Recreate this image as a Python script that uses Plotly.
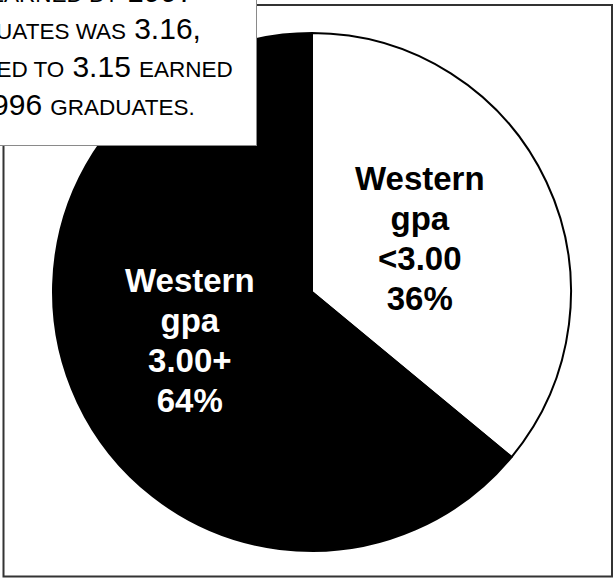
import plotly.graph_objects as go

# ---- data ----
labels = ["Western<br>gpa<br>&lt;3.00", "Western<br>gpa<br>3.00+"]
values = [36, 64]
slice_colors = ["white", "black"]
text_colors = ["black", "white"]
caption_lines = [
    ["THE AVERAGE"],
    ["GPA EARNED BY", "1997"],
    ["GRADUATES WAS", "3.16,"],
    ["COMPARED TO", "3.15", "EARNED"],
    ["BY", "1996", "GRADUATES."],
]

W, H = 614, 578
FONT = "Liberation Sans, Arial, Helvetica, sans-serif"

fig = go.Figure(
    go.Pie(
        labels=labels,
        values=values,
        sort=False,
        direction="clockwise",
        rotation=0,
        marker=dict(colors=slice_colors, line=dict(color="black", width=2)),
        textinfo="none",
        domain=dict(x=[53 / W, 571 / W], y=[1 - 551 / H, 1 - 33 / H]),
        showlegend=False,
        hoverinfo="label+percent",
    )
)

# slice labels (placed over each slice)
label_pos = [(420, 238), (190, 340)]
for lab, v, col, (px, py) in zip(labels, values, text_colors, label_pos):
    lines = lab.split("<br>") + [f"{v}%"]
    txt = "<br>".join(
        f"<span style='font-size:33px;font-weight:bold'>{ln}</span>" for ln in lines
    )
    fig.add_annotation(
        xref="paper", yref="paper", x=px / W, y=1 - py / H,
        xanchor="center", yanchor="middle", text=txt, showarrow=False,
        align="center", font=dict(family=FONT, size=30.8, color=col),
    )

# outer frame
fig.add_shape(type="rect", xref="paper", yref="paper",
              x0=3.5 / W, x1=612 / W, y0=1 - 576.5 / H, y1=1 - 5 / H,
              line=dict(color="#333333", width=2), layer="below")


def smallcaps_line(parts):
    out = []
    for p in parts:
        if any(ch.isdigit() for ch in p):
            out.append(f"<span style='font-size:30px'>{p}</span>")
        else:
            out.append(f"<span style='font-size:22.5px'>{p}</span>")
    return " ".join(out)


fig.add_annotation(
    xref="paper", yref="paper",
    x=66 / W, y=1 - 146 / H, xanchor="center", yanchor="bottom",
    text="<br>".join(smallcaps_line(p) for p in caption_lines),
    showarrow=False, align="center", valign="top",
    font=dict(family=FONT, size=29, color="black"),
    bgcolor="white", bordercolor="#8a8a8a", borderwidth=1, borderpad=4,
    width=372, height=197,
)

fig.update_layout(
    width=W, height=H,
    margin=dict(l=0, r=0, t=0, b=0),
    paper_bgcolor="white", plot_bgcolor="white",
)

fig.write_html(
    "out.html",
    config={"displayModeBar": False},
    post_script="document.body.style.margin='0';document.body.style.overflow='hidden';",
)
